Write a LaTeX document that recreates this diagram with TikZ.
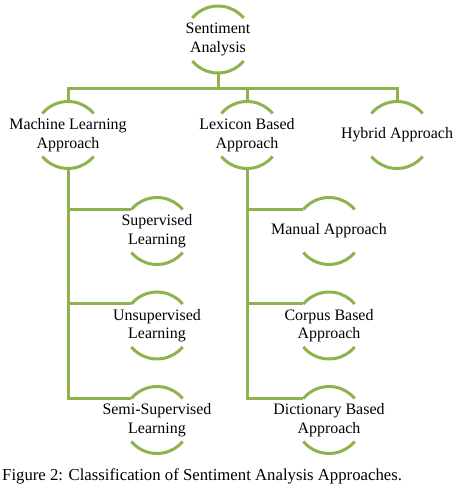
\documentclass[tikz,border=0pt]{standalone}
\usepackage{fontspec}
\setmainfont{Liberation Serif}
\usepackage{tikz}
\usetikzlibrary{positioning,calc}

\definecolor{leafgreen}{RGB}{142,178,78}

\begin{document}
\begin{tikzpicture}[
  x=1bp, y=1bp,
  topic/.style={align=center, inner sep=0pt, minimum height=67bp, font=\rmfamily\fontsize{16}{18.5}\selectfont},
  bar/.style={draw=leafgreen, line width=3bp},
  link/.style={draw=leafgreen, line width=3bp}
]
\useasboundingbox (0,0) rectangle (457,487);

\node[topic] (root) at (218,447.5) {Sentiment\\Analysis};
\node[topic] (ml) at (68,352) {Machine Learning\\Approach};
\node[topic] (lb) at (247,352) {Lexicon Based\\Approach};
\node[topic] (hy) at (397,352) {Hybrid Approach};

\node[topic] (sup) at (157,256) {Supervised\\Learning};
\node[topic] (uns) at (157,161.5) {Unsupervised\\Learning};
\node[topic] (semi) at (157,67) {Semi-Supervised\\Learning};
\node[topic] (man) at (329,256) {Manual Approach};
\node[topic] (cor) at (329,161.5) {Corpus Based\\Approach};
\node[topic] (dic) at (329,67) {Dictionary Based\\Approach};

\node[anchor=west, inner sep=0pt, font=\rmfamily\fontsize{16.8}{20}\selectfont] (caption) at (2,11)
  {Figure 2: Classification of Sentiment Analysis Approaches.};

% arcs above and below each topic
\foreach \n in {root,ml,lb,hy,sup,uns,semi,man,cor,dic}{
  \draw[bar] ([shift={(140:33.5bp)}]\n.center) arc[start angle=140, end angle=40, radius=33.5bp];
  \draw[bar] ([shift={(220:33.5bp)}]\n.center) arc[start angle=220, end angle=320, radius=33.5bp];
}

% top level
\draw[link] (root.south) -- ++(0,-15) -| (ml.north);
\draw[link] (root.south) -- ++(0,-15) -| (lb.north);
\draw[link] (root.south) -- ++(0,-15) -| (hy.north);

% branches
\draw[link] (ml.south) |- ([shift={(140:33.5bp)}]sup.center);
\draw[link] (ml.south) |- ([shift={(140:33.5bp)}]uns.center);
\draw[link] (ml.south) |- ([shift={(140:33.5bp)}]semi.center);
\draw[link] (lb.south) |- ([shift={(140:33.5bp)}]man.center);
\draw[link] (lb.south) |- ([shift={(140:33.5bp)}]cor.center);
\draw[link] (lb.south) |- ([shift={(140:33.5bp)}]dic.center);
\end{tikzpicture}
\end{document}
